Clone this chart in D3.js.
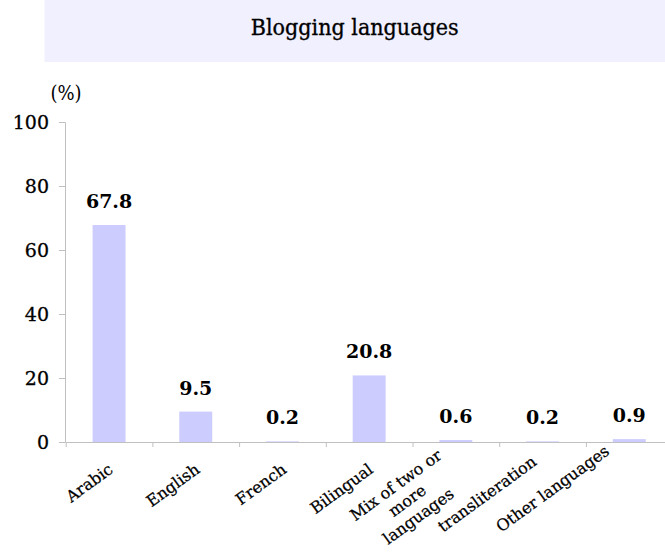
<!DOCTYPE html>
<html>
<head>
<meta charset="utf-8">
<script src="https://cdn.jsdelivr.net/npm/d3@7"></script>
<style>
  body { margin: 0; background: #fff; }
  svg { display: block; }
  .serif { font-family: "DejaVu Serif", serif; }
  .cond { font-family: "DejaVu Serif Condensed", "DejaVu Serif", serif; font-stretch: condensed; }
</style>
</head>
<body>
<svg width="665" height="556"></svg>
<script>
// chart values
const categories = ["Arabic", "English", "French", "Bilingual", "Mix of two or more languages", "transliteration", "Other languages"];
const values = [67.8, 9.5, 0.2, 20.8, 0.6, 0.2, 0.9];
const yTicks = [0, 20, 40, 60, 80, 100];
const labelLines = { "Mix of two or more languages": ["Mix of two or", "more", "languages"] };

const svg = d3.select("svg");

// title band
svg.append("rect")
  .attr("x", 44.5).attr("y", 0)
  .attr("width", 665 - 44.5).attr("height", 62)
  .attr("fill", "#f0f0fe");

svg.append("text")
  .attr("class", "cond")
  .attr("x", 354.7).attr("y", 35)
  .attr("text-anchor", "middle")
  .style("font-size", "23px")
  .attr("fill", "#000")
  .attr("stroke", "#000").attr("stroke-width", 0.3)
  .text("Blogging languages");

// scales
const x0 = 65.7, step = 86.7;
let x = d3.scaleBand()
  .domain(categories)
  .range([x0, x0 + step * categories.length])
  .paddingInner(0.62)
  .paddingOuter(0.31);
let xEdge = d3.scaleLinear().domain([0, categories.length]).range(x.range());
let y = d3.scaleLinear().domain([0, 100]).range([442, 122]);

// y axis
let yAxis = d3.axisLeft(y).tickValues(yTicks).tickSize(6).tickPadding(10);
const gy = svg.append("g")
  .attr("transform", "translate(65, 0)")
  .call(yAxis);
gy.selectAll("path, line").attr("stroke", "#c0c0c0");
gy.selectAll("text")
  .attr("class", "serif")
  .style("font-size", "19px")
  .attr("fill", "#000")
  .attr("stroke", "#000").attr("stroke-width", 0.3);

svg.append("text")
  .attr("class", "cond")
  .attr("x", 66).attr("y", 100)
  .attr("text-anchor", "middle")
  .style("font-size", "20px")
  .attr("fill", "#000")
  .text("(%)");

// bars
svg.append("g")
  .selectAll("rect")
  .data(values)
  .join("rect")
  .attr("x", (d, i) => x(categories[i]))
  .attr("width", x.bandwidth())
  .attr("y", d => y(d))
  .attr("height", d => y(0) - y(d))
  .attr("fill", "#ccccff");

// x axis with boundary ticks
let xAxis = d3.axisBottom(xEdge)
  .tickValues(d3.range(categories.length + 1))
  .tickFormat("")
  .tickSize(5)
  .tickSizeOuter(0);
const gx = svg.append("g")
  .attr("transform", "translate(0, 442)")
  .call(xAxis);
gx.selectAll("path, line").attr("stroke", "#c0c0c0");

// value labels
svg.append("g")
  .selectAll("text")
  .data(values)
  .join("text")
  .attr("class", "serif")
  .attr("x", (d, i) => x(categories[i]) + x.bandwidth() / 2)
  .attr("y", d => y(d) - 17)
  .attr("text-anchor", "middle")
  .style("font-size", "19px")
  .style("font-weight", "bold")
  .attr("fill", "#000")
  .text(d => d.toFixed(1));

// category labels, rotated
function labelPos(d, dx, dy) {
  const cx = x(d) + x.bandwidth() / 2;
  return labelLines[d]
    ? `translate(${cx - 20 + dx}, ${448 + dy}) rotate(-36)`
    : `translate(${cx - 2 + dx}, ${462 + dy}) rotate(-36)`;
}

const labels = svg.append("g")
  .selectAll("g")
  .data(categories)
  .join("g")
  .attr("transform", d => labelPos(d, 0, 0));

labels.each(function (d) {
  const g = d3.select(this);
  const lines = labelLines[d] || [d];
  const t = g.append("text")
    .attr("class", "serif")
    .style("font-size", "16px")
    .attr("fill", "#000")
    .attr("stroke", "#000").attr("stroke-width", 0.25);
  const spans = t.selectAll("tspan")
    .data(lines)
    .join("tspan")
    .attr("dy", (l, i) => i === 0 ? "0.75em" : "1.2em")
    .text(l => l);
  if (lines.length === 1) {
    t.attr("text-anchor", "end");
    spans.attr("x", 0);
    // keep long labels inside the bottom of the chart area
    const bottom = this.getBoundingClientRect().bottom;
    const over = bottom - 536;
    if (over > 0) g.attr("transform", labelPos(d, -1.3 * over, -over));
  } else {
    const w = d3.max(spans.nodes(), n => n.getComputedTextLength());
    t.attr("text-anchor", "middle");
    spans.attr("x", -w / 2);
  }
});
</script>
</body>
</html>
